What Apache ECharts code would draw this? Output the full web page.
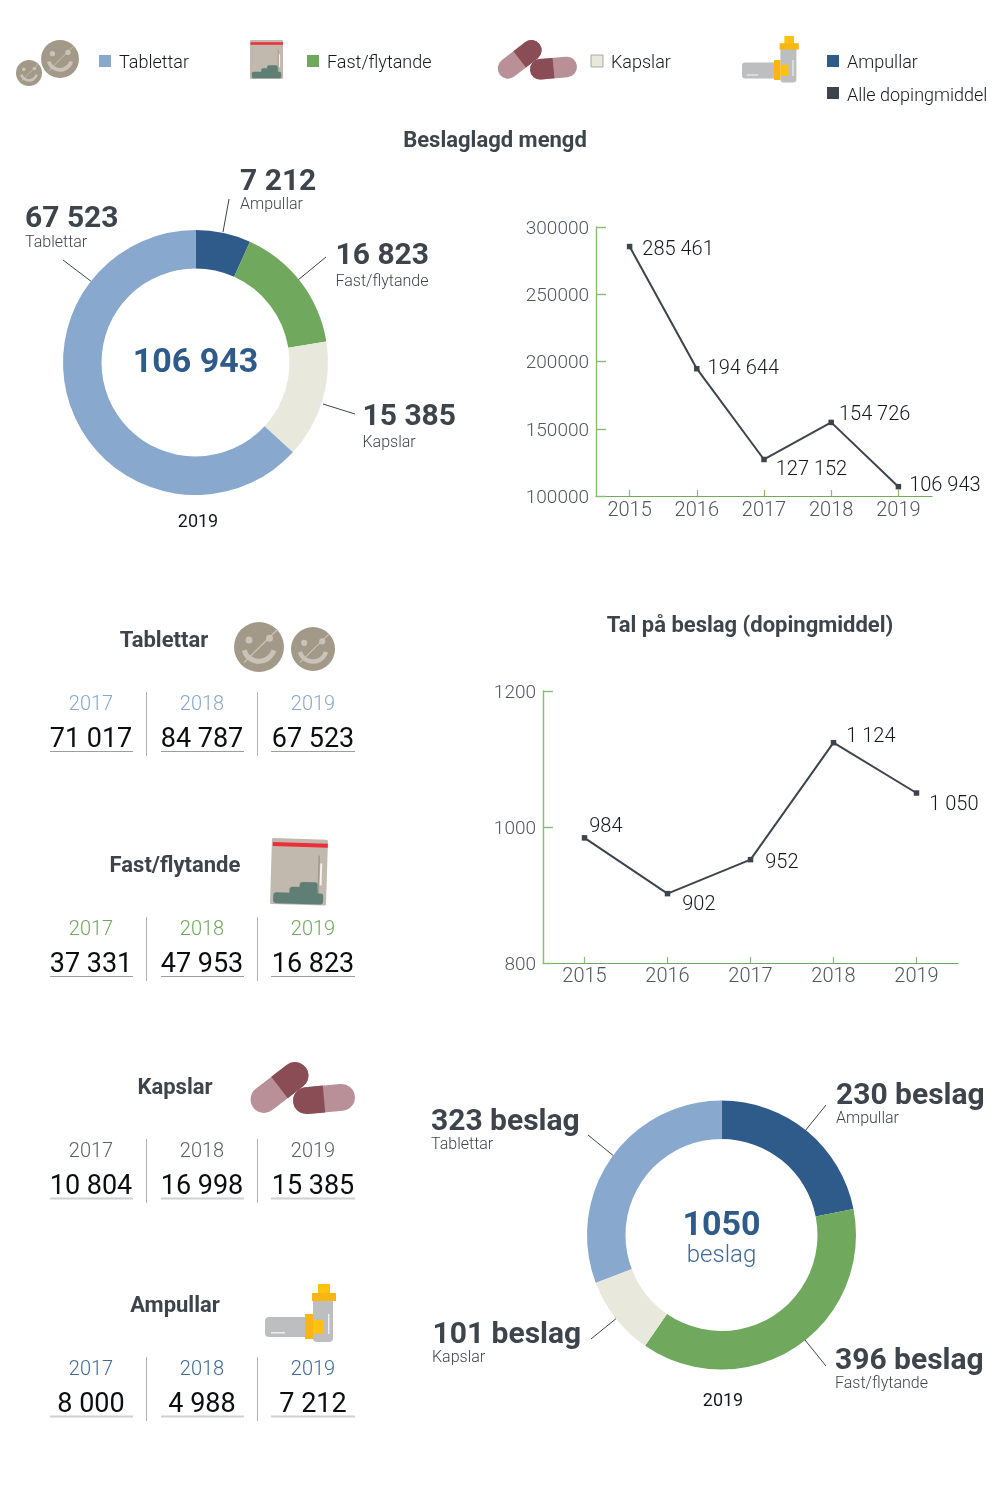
<!DOCTYPE html>
<html><head><meta charset="utf-8">
<style>html,body{margin:0;padding:0;background:#fff}#c{width:1000px;height:1500px}</style>
<script src="https://cdn.jsdelivr.net/npm/echarts@6/dist/echarts.min.js"></script>
</head><body><div id="c"></div>
<script>
const categories = ['Tablettar','Fast/flytande','Kapslar','Ampullar'];
const allLabel = 'Alle dopingmiddel';
const years = ['2015','2016','2017','2018','2019'];
const tableYears = ['2017','2018','2019'];
const tabletValues = [71017,84787,67523];
const solidValues = [37331,47953,16823];
const capsuleValues = [10804,16998,15385];
const ampouleValues = [8000,4988,7212];
const amountTotals = [285461,194644,127152,154726,106943];
const seizureTotals = [984,902,952,1124,1050];
const amount2019 = [7212,16823,15385,67523];
const seizures2019 = [230,396,101,323];
const donutOrder = ['Ampullar','Fast/flytande','Kapslar','Tablettar'];

const C = {Tablettar:'#88a8cd','Fast/flytande':'#70a85e',Kapslar:'#e8e9dc',Ampullar:'#2f5b8a',dark:'#3e444c',axis:'#86bd73',axisX:'#74a862'};
const F = 'Roboto';
const fmt = v => String(v).replace(/\B(?=(\d{3})+$)/g,' ');

const g = [];
function txt(x,y,t,size,weight,color,align){
  g.push({type:'text',x,y:y+(size>=27?3:2),silent:true,style:{text:t,font:`${weight} ${size}px ${F}`,fill:color,align:align||'left',verticalAlign:'middle'}});
}
function line(x1,y1,x2,y2,color,w){
  g.push({type:'line',silent:true,shape:{x1,y1,x2,y2},style:{stroke:color||C.dark,lineWidth:w||1}});
}
function rect(x,y,w,h,fill,stroke,r){
  g.push({type:'rect',silent:true,shape:{x,y,width:w,height:h,r:r||0},style:{fill,stroke:stroke||null,lineWidth:stroke?1:0}});
}
function tablet(cx,cy,r,rot){
  const c='#c9c3b8';
  g.push({type:'group',x:cx,y:cy,rotation:rot||0,silent:true,children:[
    {type:'circle',shape:{cx:0,cy:0,r},style:{fill:'#a39989'}},
    {type:'arc',shape:{cx:0,cy:-r*0.05,r:r*0.62,startAngle:0.3,endAngle:2.85,clockwise:true},style:{fill:null,stroke:c,lineWidth:r*0.2}},
    {type:'circle',shape:{cx:-r*0.4,cy:-r*0.28,r:r*0.14},style:{fill:c}},
    {type:'circle',shape:{cx:r*0.42,cy:-r*0.35,r:r*0.14},style:{fill:c}},
    {type:'line',shape:{x1:-r*0.6,y1:r*0.62,x2:r*0.72,y2:-r*0.68},style:{stroke:c,lineWidth:Math.max(0.8,r*0.05)}}
  ]});
}
function bag(x,y,s,rot){
  g.push({type:'group',x,y,scaleX:s,scaleY:s,rotation:rot||0,silent:true,children:[
    {type:'rect',shape:{x:0,y:0,width:56,height:66,r:1.5},style:{fill:'#c2b9ae'}},
    {type:'rect',shape:{x:1,y:4,width:55,height:4},style:{fill:'#ed2e3a'}},
    {type:'rect',shape:{x:47,y:16,width:1.5,height:40},style:{fill:'#a39989'}},
    {type:'rect',shape:{x:49,y:24,width:2,height:22},style:{fill:'#f4f2ee'}},
    {type:'rect',shape:{x:29,y:43,width:18,height:14,r:[3,3,0,0]},style:{fill:'#5f7f76'}},
    {type:'rect',shape:{x:19,y:48,width:28,height:10,r:[3,3,0,0]},style:{fill:'#5f7f76'}},
    {type:'rect',shape:{x:3,y:54,width:50,height:11,r:3},style:{fill:'#5f7f76'}}
  ]});
}
function capsules(x,y,s){
  const cap=(cx,cy,l,w,rot,darkFirst)=>({type:'group',x:cx,y:cy,rotation:rot,children:[
    {type:'rect',shape:{x:-l/2,y:-w/2,width:l,height:w,r:w/2},style:{fill:'#b98f98'}},
    {type:'rect',shape:darkFirst
      ? {x:-l/2,y:-w/2,width:l/2,height:w,r:[w/2,0,0,w/2]}
      : {x:0,y:-w/2,width:l/2,height:w,r:[0,w/2,w/2,0]},style:{fill:'#8a4c55'}}
  ]});
  g.push({type:'group',x,y,scaleX:s,scaleY:s,silent:true,children:[
    cap(28.5,25.5,66,27,0.66,false),
    cap(73,37,62,27,0.09,true)
  ]});
}
function ampoule(x,y,s){
  g.push({type:'group',x,y,scaleX:s,scaleY:s,silent:true,children:[
    {type:'rect',shape:{x:48,y:14,width:20,height:44,r:[0,0,4,4]},style:{fill:'#bdbec0'}},
    {type:'rect',shape:{x:0,y:33,width:42,height:20,r:[4,0,0,4]},style:{fill:'#bdbec0'}},
    {type:'rect',shape:{x:6,y:48,width:14,height:1.5},style:{fill:'#eeeeee'}},
    {type:'rect',shape:{x:63,y:30,width:1.5,height:20},style:{fill:'#eeeeee'}},
    {type:'rect',shape:{x:53,y:0,width:12,height:10},style:{fill:'#ffc20e'}},
    {type:'rect',shape:{x:47,y:9,width:24,height:8},style:{fill:'#f9b612'}},
    {type:'rect',shape:{x:40,y:30,width:8,height:25},style:{fill:'#f9b612'}},
    {type:'rect',shape:{x:48,y:36,width:10,height:14},style:{fill:'#ffc20e'}}
  ]});
}

/* legend */
[[99,119,61,0],[307,327,61,1],[591,611,61,2],[827,847,61,3]].forEach(([sx,tx,y,i])=>{
  const n=categories[i];
  rect(sx,y-6,12,12,C[n],n==='Kapslar'?'#a9aa9e':null);
  txt(tx,y,n,18,300,'#15181c');
});
rect(827,87,12,12,C.dark);
txt(847,94,allLabel,18,300,'#15181c');
tablet(60,59,19,0);tablet(29,73,13,0);
bag(250,40,0.59,0);
capsules(498,40,0.76);
ampoule(742,36,0.8);

/* section titles */
txt(495,139,'Beslaglagd mengd',22,700,C.dark,'center');
txt(750,624,'Tal på beslag (dopingmiddel)',22,700,C.dark,'center');

/* donut text */
function donutLabels(list){
  list.forEach(([x,y,big,small,x2,y2])=>{
    txt(x,y,big,30,700,C.dark);
    txt(x2==null?x:x2,y2,small,16,300,C.dark);
  });
}
donutLabels([
  [25,216,fmt(amount2019[3]),'Tablettar',25,241],
  [240,179,fmt(amount2019[0]),'Ampullar',240,203],
  [335.5,253,fmt(amount2019[1]),'Fast/flytande',335.5,280],
  [362.5,414,fmt(amount2019[2]),'Kapslar',362.5,441]
]);
txt(195.5,360,fmt(amount2019.reduce((a,b)=>a+b,0)),34,700,C.Ampullar,'center');
txt(198,520,'2019',18,400,'#15181c','center');
line(229,199,223,232);line(63,260,92,282);line(326,257,298,280);line(323,404,355,414);

donutLabels([
  [431,1119,seizures2019[3]+' beslag','Tablettar',431,1143],
  [836,1093,seizures2019[0]+' beslag','Ampullar',836,1117],
  [432.5,1332,seizures2019[2]+' beslag','Kapslar',432,1356],
  [835,1358,seizures2019[1]+' beslag','Fast/flytande',835,1382]
]);
txt(721.5,1223,String(seizures2019.reduce((a,b)=>a+b,0)),34,700,C.Ampullar,'center');
txt(721.5,1254,'beslag',24,300,'#3f6a98','center');
txt(723,1399,'2019',18,400,'#15181c','center');
line(826,1105,805,1131);line(588,1135,615,1157);line(591,1339,618,1317);line(826,1366,805,1340);

/* tables */
const tables=[
  {name:'Tablettar',values:tabletValues,y:703,titleX:164,titleY:639,yc:'#88a8cd',ul:'#9a9da1',ulw:1},
  {name:'Fast/flytande',values:solidValues,y:928,titleX:175,titleY:864,yc:'#70a85e',ul:'#9a9da1',ulw:1},
  {name:'Kapslar',values:capsuleValues,y:1150,titleX:175,titleY:1086,yc:'#5a6068',ul:'#cfd0d2',ulw:2},
  {name:'Ampullar',values:ampouleValues,y:1368,titleX:175,titleY:1304,yc:'#3f6a98',ul:'#cfd0d2',ulw:2}
];
const cols=[[91,50,133],[202,161,244],[313,271,355]];
tables.forEach(t=>{
  txt(t.titleX,t.titleY,t.name,22,700,C.dark,'center');
  t.values.forEach((v,i)=>{
    txt(cols[i][0],t.y,tableYears[i],20,300,t.yc,'center');
    txt(cols[i][0],t.y+34,fmt(v),27,400,'#0b0d10','center');
    line(cols[i][1],t.y+48.5,cols[i][2],t.y+48.5,t.ul,t.ulw);
  });
  line(146.5,t.y-11,146.5,t.y+53,'#aeb0b3',1);
  line(257.5,t.y-11,257.5,t.y+53,'#aeb0b3',1);
});
tablet(259,647,25,0);tablet(313,649,22,0);
bag(272,838,1,-0.03);
capsules(251,1062,1);
ampoule(265,1284,1);

/* line charts */
const axisCommon=(extra)=>Object.assign({
  axisLine:{show:true,lineStyle:{color:C.axisX,width:1.2}},
  axisTick:{show:true,inside:true,length:6,alignWithLabel:true,lineStyle:{color:C.axis,width:1.2}},
  splitLine:{show:false},
  axisLabel:{color:'#50565e',fontFamily:F,fontWeight:300,fontSize:20,margin:5}
},extra);
const valueAxis=(gridIndex,min,max,interval,margin)=>axisCommon({
  type:'value',gridIndex,min,max,interval,
  axisLine:{show:true,lineStyle:{color:C.axis,width:1.4}},
  axisTick:{show:true,inside:true,length:10,lineStyle:{color:C.axis,width:1.4}},
  axisLabel:{color:'#50565e',fontFamily:F,fontWeight:300,fontSize:19,margin,verticalAlign:'top',lineHeight:4,formatter:v=>String(v)}
});
const lineSeries=(data,xi,offs)=>({
  type:'line',xAxisIndex:xi,yAxisIndex:xi,data,silent:true,animation:false,
  symbol:'rect',symbolSize:5.5,showAllSymbol:true,
  lineStyle:{color:C.dark,width:2},itemStyle:{color:C.dark},
  label:{show:true,position:'right',distance:0,color:'#15181c',fontFamily:F,fontWeight:300,fontSize:20,
    formatter:p=>fmt(p.value)},
  labelLayout:p=>({dx:offs[p.dataIndex][0],dy:offs[p.dataIndex][1]})
});

const option={
  animation:false,backgroundColor:'#fff',
  grid:[
    {left:596,top:227,width:336,height:269},
    {left:543,top:691,width:415,height:272}
  ],
  xAxis:[
    axisCommon({type:'category',gridIndex:0,data:years}),
    axisCommon({type:'category',gridIndex:1,data:years,axisLabel:{color:'#50565e',fontFamily:F,fontWeight:300,fontSize:20,margin:4}})
  ],
  yAxis:[
    valueAxis(0,100000,300000,50000,7),
    valueAxis(1,800,1200,200,7)
  ],
  series:[
    lineSeries(amountTotals,0,[[10,3],[8,0],[9,11],[5,-7],[8,-1]]),
    lineSeries(seizureTotals,1,[[2,-11],[12,11],[12,3],[10,-6],[10,12]]),
    {type:'pie',silent:true,animation:false,center:[195.5,362.5],radius:[94,132.5],startAngle:90,clockwise:true,
      label:{show:false},labelLine:{show:false},itemStyle:{borderWidth:0},
      data:donutOrder.map((n,i)=>({name:n,value:amount2019[i],itemStyle:{color:C[n]}}))},
    {type:'pie',silent:true,animation:false,center:[721.5,1235],radius:[96,134.5],startAngle:90,clockwise:true,
      label:{show:false},labelLine:{show:false},itemStyle:{borderWidth:0},
      data:donutOrder.map((n,i)=>({name:n,value:seizures2019[i],itemStyle:{color:C[n]}}))}
  ],
  graphic:{elements:g}
};
const chart=echarts.init(document.getElementById('c'),null,{renderer:'canvas',width:1000,height:1500});
chart.setOption(option);
</script></body></html>
